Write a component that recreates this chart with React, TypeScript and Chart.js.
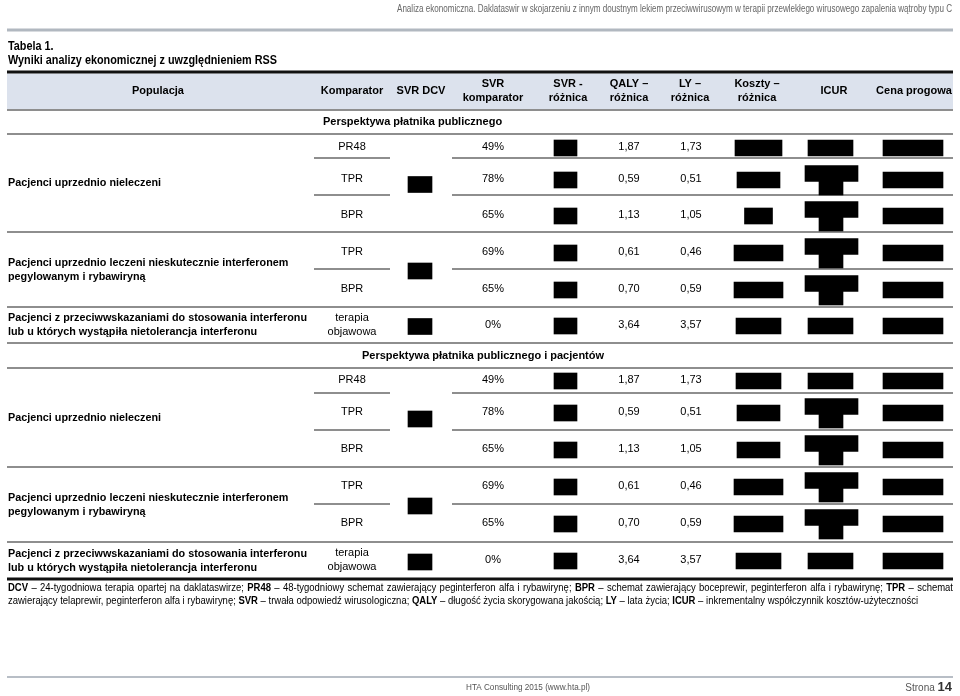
import React, { useEffect, useRef } from "react";
import { Chart, registerables } from "chart.js";

Chart.register(...registerables);

// ---------------- data ----------------
const runningHead =
  "Analiza ekonomiczna. Daklataswir w skojarzeniu z innym doustnym lekiem przeciwwirusowym w terapii przewlekłego wirusowego zapalenia wątroby typu C";
const tableNumber = "Tabela 1.";
const tableTitle = "Wyniki analizy ekonomicznej z uwzględnieniem RSS";
const columnHeaders: string[][] = [
  ["Populacja"],
  ["Komparator"],
  ["SVR DCV"],
  ["SVR", "komparator"],
  ["SVR -", "różnica"],
  ["QALY –", "różnica"],
  ["LY –", "różnica"],
  ["Koszty –", "różnica"],
  ["ICUR"],
  ["Cena progowa"],
];
const perspectives = [
  "Perspektywa płatnika publicznego",
  "Perspektywa płatnika publicznego i pacjentów",
];
const populations: string[][] = [
  ["Pacjenci uprzednio nieleczeni"],
  ["Pacjenci uprzednio leczeni nieskutecznie interferonem", "pegylowanym i rybawiryną"],
  ["Pacjenci z przeciwwskazaniami do stosowania interferonu", "lub u których wystąpiła nietolerancja interferonu"],
];
const comparators: string[][] = [["PR48"], ["TPR"], ["BPR"], ["TPR"], ["BPR"], ["terapia", "objawowa"]];
const comparatorPopulation = [0, 0, 0, 1, 1, 2];
const svrComparatorPct = [49, 78, 65, 69, 65, 0];
const qalyDifference = [1.87, 0.59, 1.13, 0.61, 0.7, 3.64];
const lyDifference = [1.73, 0.51, 1.05, 0.46, 0.59, 3.57];
// redacted (blacked-out) cells: ICUR cell redaction shape per comparator row
const icurTwoLineRedaction = [false, true, true, true, true, false];
const footnoteLines: [boolean, string][][] = [
  [
    [true, "DCV"],
    [false, " – 24-tygodniowa terapia opartej na daklataswirze; "],
    [true, "PR48"],
    [false, " – 48-tygodniowy schemat zawierający peginterferon alfa i rybawirynę; "],
    [true, "BPR"],
    [false, " – schemat zawierający boceprewir, peginterferon alfa i rybawirynę; "],
    [true, "TPR"],
    [false, " – schemat"],
  ],
  [
    [false, "zawierający telaprewir, peginterferon alfa i rybawirynę; "],
    [true, "SVR"],
    [false, " – trwała odpowiedź wirusologiczna; "],
    [true, "QALY"],
    [false, " – długość życia skorygowana jakością; "],
    [true, "LY"],
    [false, " – lata życia; "],
    [true, "ICUR"],
    [false, " – inkrementalny współczynnik kosztów-użyteczności"],
  ],
];
const publisher = "HTA Consulting 2015 (www.hta.pl)";
const pageLabel = "Strona ";
const pageNumber = "14";

// ---------------- layout (page units = px) ----------------
const FONT = '"Liberation Sans", Arial, Helvetica, sans-serif';
const W = 960;
const H = 696;
const LEFT = 7;
const RIGHT = 953;
const headerX = [158, 352, 421, 493, 568, 629, 690, 757, 834, 914];
const comparatorX = 352;
const svrCompX = 493;
const qalyX = 629;
const lyX = 691;
const svrDcvSpan = [408, 432];
const svrDiffSpan = [554, 577];
const icurSpan = [808, 853];
const icurWideSpan = [805, 858];
const icurNarrowSpan = [819, 843];
const cenaSpan = [883, 943];
const kosztyCenter = 758.5;
const partialSpans = [
  [314, 390],
  [452, RIGHT],
];
const sections = [
  {
    titleX: 323,
    titleY: 122,
    top: 134,
    rowY: [147, 179, 215, 252, 289, 325],
    partial: [158, 195, 269],
    groupBounds: [134, 232, 307, 343],
    kosztyW: [47, 43, 28, 49, 49, 45],
  },
  {
    titleX: 362,
    titleY: 356,
    top: 368,
    rowY: [380, 412, 449, 486, 523, 560],
    partial: [393, 430, 504],
    groupBounds: [368, 467, 542, 579],
    kosztyW: [45, 43, 43, 49, 49, 45],
  },
];

// build redaction bars (floating horizontal bars)
const mainBoxes: { x: number[]; y: number }[] = [];
const tailBoxes: { x: number[]; y: number }[] = [];
sections.forEach((s) => {
  for (let g = 0; g < populations.length; g++) {
    const mid = (s.groupBounds[g] + s.groupBounds[g + 1]) / 2;
    mainBoxes.push({ x: svrDcvSpan, y: mid + 1.5 });
  }
  comparators.forEach((_, r) => {
    const y = s.rowY[r] + 1;
    mainBoxes.push({ x: svrDiffSpan, y });
    const w = s.kosztyW[r];
    mainBoxes.push({ x: [kosztyCenter - w / 2, kosztyCenter + w / 2], y });
    if (icurTwoLineRedaction[r]) {
      mainBoxes.push({ x: icurWideSpan, y: y - 6.5 });
      tailBoxes.push({ x: icurNarrowSpan, y: y + 8 });
    } else {
      mainBoxes.push({ x: icurSpan, y });
    }
    mainBoxes.push({ x: cenaSpan, y });
  });
});

const fmt = (v: number) => v.toFixed(2).replace(".", ",");

function text(
  ctx: CanvasRenderingContext2D,
  s: string,
  x: number,
  y: number,
  font: string,
  color: string,
  align: CanvasTextAlign = "left",
  scaleX = 1
) {
  ctx.save();
  ctx.font = font;
  ctx.fillStyle = color;
  ctx.textBaseline = "middle";
  ctx.textAlign = align;
  ctx.translate(x, y);
  ctx.scale(scaleX, 1);
  ctx.fillText(s, 0, 0);
  ctx.restore();
}

function hline(ctx: CanvasRenderingContext2D, x0: number, x1: number, y: number, color: string, lw: number) {
  ctx.save();
  ctx.strokeStyle = color;
  ctx.lineWidth = lw;
  ctx.beginPath();
  ctx.moveTo(x0, y);
  ctx.lineTo(x1, y);
  ctx.stroke();
  ctx.restore();
}

const tablePlugin = {
  id: "tablePlugin",
  beforeDatasetsDraw(chart: any) {
    const ctx: CanvasRenderingContext2D = chart.ctx;
    const sx = chart.scales.x;
    const sy = chart.scales.y;
    const X = (v: number) => sx.getPixelForValue(v);
    const Y = (v: number) => sy.getPixelForValue(v);
    ctx.save();
    ctx.fillStyle = "#fff";
    ctx.fillRect(0, 0, W, H);
    // running head line
    hline(ctx, X(LEFT), X(RIGHT), Y(30), "#b1b8c0", 3);
    // header band
    ctx.fillStyle = "#dce2ed";
    ctx.fillRect(X(LEFT), Y(73.5), X(RIGHT) - X(LEFT), Y(109) - Y(73.5));
    hline(ctx, X(LEFT), X(RIGHT), Y(72), "#111", 3);
    hline(ctx, X(LEFT), X(RIGHT), Y(110), "#8e8e8e", 2);
    sections.forEach((s, si) => {
      hline(ctx, X(LEFT), X(RIGHT), Y(s.top), "#8e8e8e", 2);
      s.partial.forEach((py) =>
        partialSpans.forEach((sp) => hline(ctx, X(sp[0]), X(sp[1]), Y(py), "#8e8e8e", 2))
      );
      s.groupBounds.slice(1).forEach((gy, i, arr) => {
        const last = i === arr.length - 1;
        if (last && si === sections.length - 1) hline(ctx, X(LEFT), X(RIGHT), Y(gy), "#111", 3);
        else hline(ctx, X(LEFT), X(RIGHT), Y(gy), "#8e8e8e", 2);
      });
    });
    // footer line
    hline(ctx, X(LEFT), X(RIGHT), Y(677), "#b8bec6", 2);
    ctx.restore();
  },
  afterDatasetsDraw(chart: any) {
    const ctx: CanvasRenderingContext2D = chart.ctx;
    const sx = chart.scales.x;
    const sy = chart.scales.y;
    const X = (v: number) => sx.getPixelForValue(v);
    const Y = (v: number) => sy.getPixelForValue(v);

    // running head (condensed)
    const rhFont = `10px ${FONT}`;
    ctx.font = rhFont;
    const rhK = 555 / ctx.measureText(runningHead).width;
    text(ctx, runningHead, X(952), Y(9), rhFont, "#666", "right", rhK);

    // title
    const tFont = `bold 12px ${FONT}`;
    ctx.font = tFont;
    const tK = 269 / ctx.measureText(tableTitle).width;
    text(ctx, tableNumber, X(8), Y(47), tFont, "#000", "left", tK);
    text(ctx, tableTitle, X(8), Y(61), tFont, "#000", "left", tK);

    const hb = `bold 11px ${FONT}`;
    const rg = `11px ${FONT}`;
    columnHeaders.forEach((lines, i) => {
      if (lines.length === 1) text(ctx, lines[0], X(headerX[i]), Y(91), hb, "#000", "center");
      else {
        text(ctx, lines[0], X(headerX[i]), Y(84), hb, "#000", "center");
        text(ctx, lines[1], X(headerX[i]), Y(98), hb, "#000", "center");
      }
    });

    ctx.font = hb;
    const popK = Math.min(1, 299 / ctx.measureText(populations[2][0]).width);

    sections.forEach((s, si) => {
      text(ctx, perspectives[si], X(s.titleX), Y(s.titleY), hb, "#000", "left");
      populations.forEach((lines, g) => {
        const mid = (s.groupBounds[g] + s.groupBounds[g + 1]) / 2;
        const off = (lines.length - 1) * 7;
        lines.forEach((ln, k) => text(ctx, ln, X(8), Y(mid - off + k * 14), hb, "#000", "left", popK));
      });
      comparators.forEach((lines, r) => {
        const y = s.rowY[r];
        const off = (lines.length - 1) * 7;
        lines.forEach((ln, k) => text(ctx, ln, X(comparatorX), Y(y - off + k * 14), rg, "#000", "center"));
        text(ctx, svrComparatorPct[r] + "%", X(svrCompX), Y(y), rg, "#000", "center");
        text(ctx, fmt(qalyDifference[r]), X(qalyX), Y(y), rg, "#000", "center");
        text(ctx, fmt(lyDifference[r]), X(lyX), Y(y), rg, "#000", "center");
      });
    });

    // footnote
    const fnR = `10px ${FONT}`;
    const fnB = `bold 10px ${FONT}`;
    const fnY = [588, 601];
    const lineWords = footnoteLines.map((segs) => {
      const words: { b: boolean; t: string; space: boolean; w: number }[] = [];
      segs.forEach(([b, t]) => {
        t.split(/( )/).forEach((p) => {
          if (p === "") return;
          ctx.font = b ? fnB : fnR;
          words.push({ b, t: p, space: p === " ", w: ctx.measureText(p).width });
        });
      });
      return words;
    });
    const natural = lineWords.map((ws) => ws.reduce((a, w) => a + w.w, 0));
    const fk = 910 / natural[1];
    lineWords.forEach((words, li) => {
      const spaces = words.filter((w) => w.space).length;
      const justify = li === 0;
      const extra = justify && spaces > 0 ? (RIGHT - 8 - natural[li] * fk) / spaces : 0;
      let x = 8;
      words.forEach((w) => {
        if (!w.space) text(ctx, w.t, X(x), Y(fnY[li]), w.b ? fnB : fnR, "#000", "left", fk);
        x += w.w * fk + (w.space ? extra : 0);
      });
    });

    // footer
    const pubFont = `9px ${FONT}`;
    ctx.font = pubFont;
    const pk = 124 / ctx.measureText(publisher).width;
    text(ctx, publisher, X(466), Y(688), pubFont, "#555", "left", pk);
    const numFont = `bold 13px ${FONT}`;
    ctx.font = numFont;
    const nw = ctx.measureText(pageNumber).width;
    text(ctx, pageNumber, X(952), Y(687), numFont, "#333", "right");
    text(ctx, pageLabel, X(952 - nw), Y(688), `10px ${FONT}`, "#555", "right");
  },
};

export default function App() {
  const ref = useRef<HTMLCanvasElement | null>(null);
  useEffect(() => {
    document.body.style.margin = "0";
    const canvas = ref.current;
    if (!canvas) return;
    const chart = new Chart(canvas, {
      type: "bar",
      data: {
        datasets: [
          {
            label: "redacted",
            data: mainBoxes as any,
            backgroundColor: "#000",
            borderWidth: 0,
            barThickness: 16,
            grouped: false,
          } as any,
          {
            label: "redacted-tail",
            data: tailBoxes as any,
            backgroundColor: "#000",
            borderWidth: 0,
            barThickness: 14,
            grouped: false,
          } as any,
        ],
      },
      options: {
        indexAxis: "y",
        responsive: false,
        animation: false,
        devicePixelRatio: 1,
        layout: { padding: 0 },
        scales: {
          x: { type: "linear", min: 0, max: W, display: false, offset: false },
          y: { type: "linear", min: 0, max: H, reverse: true, display: false, offset: false },
        },
        plugins: { legend: { display: false }, tooltip: { enabled: false }, title: { display: false } },
        events: [],
      } as any,
      plugins: [tablePlugin],
    });
    return () => chart.destroy();
  }, []);
  return (
    <canvas
      ref={ref}
      width={W}
      height={H}
      style={{ position: "fixed", left: 0, top: 0, width: W, height: H, display: "block" }}
    />
  );
}
